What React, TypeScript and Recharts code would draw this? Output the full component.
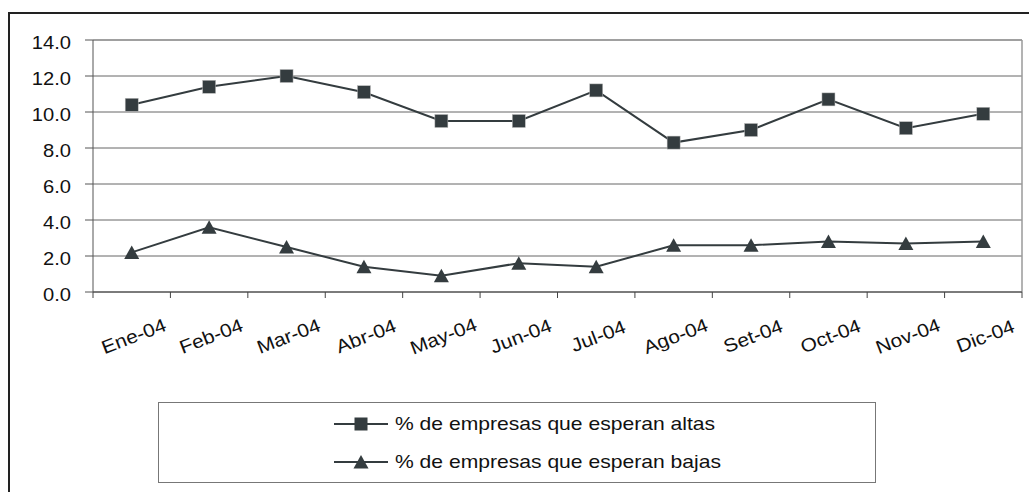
import React from "react";
import { LineChart, Line, XAxis, YAxis, CartesianGrid, Legend, ReferenceLine } from "recharts";

const categories = ["Ene-04", "Feb-04", "Mar-04", "Abr-04", "May-04", "Jun-04", "Jul-04", "Ago-04", "Set-04", "Oct-04", "Nov-04", "Dic-04"];
const altas = [10.4, 11.4, 12.0, 11.1, 9.5, 9.5, 11.2, 8.3, 9.0, 10.7, 9.1, 9.9];
const bajas = [2.2, 3.6, 2.5, 1.4, 0.9, 1.6, 1.4, 2.6, 2.6, 2.8, 2.7, 2.8];
const yTicks = [0, 2, 4, 6, 8, 10, 12, 14];
const bandEdges = [0, 1, 2, 3, 4, 5, 6, 7, 8, 9, 10, 11, 12];
const seriesNames = ["% de empresas que esperan altas", "% de empresas que esperan bajas"];

const W = 1029;
const H = 492;
const margin = { top: 40, right: 7, left: 33, bottom: 140 };
const Y_W = 60;
const BAND = (W - margin.left - Y_W - margin.right) / categories.length;
const FONT = "'Liberation Sans', Arial, sans-serif";
const INK = "#343c3f";
const STRETCH = 1.12;

const data = categories.map((name, i) => ({ pos: i + 0.5, name, altas: altas[i], bajas: bajas[i] }));

const YTick = (props: any) => {
    const { x, y, payload } = props;
    return (
        <text transform={`translate(${x},${y + 8.5}) scale(${STRETCH},1)`} textAnchor="end" fontSize={18} fill="#111" fontFamily={FONT}>
            {payload.value.toFixed(1)}
        </text>
    );
};

const CatTick = (props: any) => {
    const { x, y, payload } = props;
    const i = payload.value;
    if (i >= categories.length) return <g />;
    const cx = x + BAND / 2 + 2;
    const cy = y + 36;
    return (
        <text
            transform={`translate(${cx},${cy}) rotate(-21) scale(${STRETCH},1)`}
            textAnchor="middle"
            dominantBaseline="central"
            fontSize={18.7}
            fill="#111"
            fontFamily={FONT}
        >
            {categories[i]}
        </text>
    );
};

const SquareDot = (p: any) => (
    <rect key={`s-${p.index}`} x={p.cx - 6.5} y={p.cy - 6.5} width={13} height={13} fill={INK} stroke="#bbb" strokeWidth={0.5} />
);

const TriDot = (p: any) => (
    <polygon key={`t-${p.index}`} points={`${p.cx},${p.cy - 7} ${p.cx + 7.5},${p.cy + 6.5} ${p.cx - 7.5},${p.cy + 6.5}`} fill={INK} />
);

const LegendBox = () => (
    <div
        style={{
            boxSizing: "border-box",
            width: 718,
            height: 81,
            border: "1px solid #777",
            background: "#fff",
            paddingLeft: 175,
            paddingTop: 2,
            fontFamily: FONT,
            fontSize: 19,
            color: "#111",
        }}
    >
        {seriesNames.map((name, i) => (
            <div key={name} style={{ display: "flex", alignItems: "center", height: 38 }}>
                <svg width={54} height={16}>
                    <line x1={0} y1={8} x2={54} y2={8} stroke={INK} strokeWidth={2} />
                    {i === 0 ? (
                        <rect x={20.5} y={1.5} width={13} height={13} fill={INK} />
                    ) : (
                        <polygon points="27,1 34.5,14.5 19.5,14.5" fill={INK} />
                    )}
                </svg>
                <span style={{ display: "inline-block", marginLeft: 7, whiteSpace: "nowrap", transform: "scaleX(1.11)", transformOrigin: "left center" }}>
                    {name}
                </span>
            </div>
        ))}
    </div>
);

export default function App() {
    return (
        <div style={{ position: "absolute", left: 0, top: 0, width: W, height: H, overflow: "hidden", background: "#fff", fontFamily: FONT }}>
            <div
                style={{
                    position: "absolute",
                    left: 8,
                    top: 12,
                    width: W,
                    height: H,
                    borderTop: "2px solid #222",
                    borderLeft: "2px solid #222",
                }}
            />
            <div style={{ position: "absolute", left: 0, top: 0 }}>
                <LineChart width={W} height={H} data={data} margin={margin}>
                    <CartesianGrid vertical={false} stroke="#666" strokeWidth={1} />
                    <XAxis
                        dataKey="pos"
                        type="number"
                        domain={[0, 12]}
                        ticks={bandEdges}
                        interval={0}
                        tickSize={6}
                        tickMargin={2}
                        height={60}
                        stroke="#444"
                        tick={<CatTick />}
                    />
                    <YAxis
                        domain={[0, 14]}
                        ticks={yTicks}
                        interval={0}
                        width={Y_W}
                        tickSize={8}
                        tickMargin={14}
                        stroke="#555"
                        tick={<YTick />}
                    />
                    <ReferenceLine y={14} stroke="#9a9a9a" strokeWidth={1.5} />
                    <ReferenceLine x={12} stroke="#9a9a9a" strokeWidth={1.5} />
                    <Line
                        dataKey="altas"
                        name={seriesNames[0]}
                        stroke={INK}
                        strokeWidth={2}
                        dot={SquareDot}
                        activeDot={false}
                        isAnimationActive={false}
                    />
                    <Line
                        dataKey="bajas"
                        name={seriesNames[1]}
                        stroke={INK}
                        strokeWidth={2}
                        dot={TriDot}
                        activeDot={false}
                        isAnimationActive={false}
                    />
                    <Legend
                        layout="vertical"
                        align="center"
                        verticalAlign="middle"
                        wrapperStyle={{ left: 158, top: 402, width: 718, height: 81 }}
                        content={<LegendBox />}
                    />
                </LineChart>
            </div>
        </div>
    );
}
